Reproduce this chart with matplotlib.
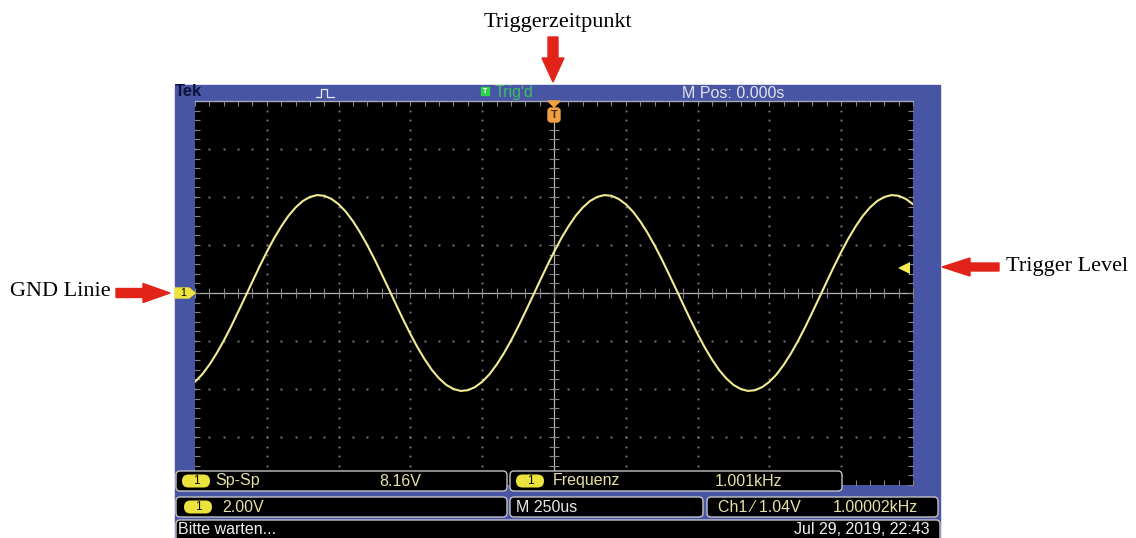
import matplotlib
matplotlib.use('Agg')
import matplotlib.pyplot as plt
import matplotlib.patches as patches
import numpy as np

plt.rcParams['font.family'] = ['Liberation Sans', 'DejaVu Sans']

time_us = list(range(-1250, 1251, 25))
ch1_volts = [-3.70, -3.39, -2.99, -2.52, -1.99, -1.41, -0.79, -0.16, 0.48, 1.11,
             1.71, 2.27, 2.77, 3.21, 3.56, 3.83, 4.00, 4.08, 4.05, 3.92,
             3.70, 3.39, 2.99, 2.52, 1.99, 1.41, 0.79, 0.16, -0.48, -1.11,
             -1.71, -2.27, -2.77, -3.21, -3.56, -3.83, -4.00, -4.08, -4.05, -3.92,
             -3.70, -3.39, -2.99, -2.52, -1.99, -1.41, -0.79, -0.16, 0.48, 1.11,
             1.71, 2.27, 2.77, 3.21, 3.56, 3.83, 4.00, 4.08, 4.05, 3.92,
             3.70, 3.39, 2.99, 2.52, 1.99, 1.41, 0.79, 0.16, -0.48, -1.11,
             -1.71, -2.27, -2.77, -3.21, -3.56, -3.83, -4.00, -4.08, -4.05, -3.92,
             -3.70, -3.39, -2.99, -2.52, -1.99, -1.41, -0.79, -0.16, 0.48, 1.11,
             1.71, 2.27, 2.77, 3.21, 3.56, 3.83, 4.00, 4.08, 4.05, 3.92,
             3.70]

volts_per_div = 2.0
us_per_div = 250.0
trigger_level = 1.04

# Anzeige-Werte
meas_vpp = '8.16V'
meas_freq = '1.001kHz'
scale_text = '2.00V'
time_text = 'M 250us'
trig_text = 'Ch1 \u2044 1.04V'
trig_freq = '1.00002kHz'
mpos_text = 'M Pos: 0.000s'
status_text = 'Bitte warten...'
date_text = 'Jul 29, 2019, 22:43'

W, H = 1136, 538
BLUE = '#4854a4'
YEL = '#ece43c'
TXT = '#e6e2a6'
RED = '#e2231a'
GRID = '#858585'

fig = plt.figure(figsize=(W / 100, H / 100), dpi=100, facecolor='white')

# Hintergrund (Pixelkoordinaten)
bg = fig.add_axes([0, 0, 1, 1], zorder=0)
bg.set_xlim(0, W)
bg.set_ylim(H, 0)
bg.axis('off')
bg.add_patch(patches.Rectangle((175, 85), 765, 460, color=BLUE))

bg.text(175, 92, 'Tek', fontsize=12, fontweight='bold', color='#0e1436', va='center')
bg.plot([316, 321, 321, 327, 327, 334], [97, 97, 89, 89, 97, 97], color='#e8e8f0', lw=0.9)
bg.add_patch(patches.Rectangle((481, 87), 8, 8, color='#2fd04a'))
bg.text(485, 91.5, 'T', fontsize=5, color='white', ha='center', va='center', fontweight='bold')
bg.text(495, 93, "Trig'd", fontsize=11.5, color='#3cc060', va='center')
bg.text(682, 93, mpos_text, fontsize=11.5, color='#e2e2ea', va='center')

serif = ['Liberation Serif', 'DejaVu Serif']
bg.text(558, 22, 'Triggerzeitpunkt', fontsize=16, family=serif, ha='center', va='center')
bg.text(10, 292, 'GND Linie', fontsize=16, family=serif, ha='left', va='center')
bg.text(1006, 266, 'Trigger Level', fontsize=16, family=serif, ha='left', va='center')

bg.add_patch(patches.FancyArrow(553, 37, 0, 45, width=10, head_width=22, head_length=24,
                                length_includes_head=True, color=RED))
bg.add_patch(patches.FancyArrow(116, 293, 54, 0, width=9, head_width=19, head_length=27,
                                length_includes_head=True, color=RED))
bg.add_patch(patches.FancyArrow(999, 267, -57, 0, width=8, head_width=18, head_length=28,
                                length_includes_head=True, color=RED))

# Bildschirm
ax = fig.add_axes([195 / W, 1 - 485 / H, 718 / W, 384 / H], zorder=1)
ax.set_facecolor('black')
ax.set_xlim(-5, 5)
ax.set_ylim(-4, 4)
ax.set_xticks([])
ax.set_yticks([])
for s in ['left', 'right', 'bottom']:
    ax.spines[s].set_visible(False)
ax.spines['top'].set_color('#a8a8b8')
ax.spines['top'].set_linewidth(1.0)

xs = np.arange(-5, 5.001, 0.2)
ys = np.arange(-4, 4.001, 0.2)
for k in range(-4, 5):
    if k != 0:
        ax.plot([k] * len(ys), ys, ls='none', marker='s', ms=1.3, mew=0, color=GRID)
for k in range(-3, 4):
    if k != 0:
        ax.plot(xs, [k] * len(xs), ls='none', marker='s', ms=1.3, mew=0, color=GRID)

ax.axhline(0, color='#b4b4b4', lw=0.9)
ax.axvline(0, color='#b4b4b4', lw=0.9)
ax.plot([0] * len(ys), ys, ls='none', marker='_', ms=7, mew=0.8, color=GRID)
ax.plot(xs, [0] * len(xs), ls='none', marker='|', ms=7, mew=0.8, color=GRID)
for e in [-5, 5]:
    ax.plot([e] * len(ys), ys, ls='none', marker='_', ms=7, mew=0.8, color=GRID)
for e in [-4, 4]:
    ax.plot(xs, [e] * len(xs), ls='none', marker='|', ms=7, mew=0.8, color=GRID)

t_div = np.array(time_us) / us_per_div
v_div = np.array(ch1_volts) / volts_per_div
ax.plot(t_div, v_div, color='#f2ec94', lw=1.5, zorder=5)

ax.plot(4.88, trigger_level / volts_per_div, marker='<', ms=8, color='#f2ec50',
        mew=0, clip_on=False, zorder=6)

# Overlay
ov = fig.add_axes([0, 0, 1, 1], zorder=2)
ov.patch.set_alpha(0)
ov.set_xlim(0, W)
ov.set_ylim(H, 0)
ov.axis('off')

# Trigger-Marke
ov.add_patch(patches.Polygon([(548, 101), (560, 101), (554, 107)], color='#f0a040'))
ov.add_patch(patches.FancyBboxPatch((548, 108), 12, 14, boxstyle='round,pad=0,rounding_size=3',
                                    color='#f0a040'))
ov.text(554, 114.5, 'T', fontsize=8, fontweight='bold', color='#3a2a10', ha='center', va='center')

# GND-Marke
ov.add_patch(patches.Polygon([(175, 288), (189, 288), (195, 293), (189, 298), (175, 298)],
                             color=YEL))
ov.text(183, 293, '1', fontsize=7.5, color='black', ha='center', va='center')


def box(x0, y0, x1, y1):
    ov.add_patch(patches.FancyBboxPatch((x0, y0), x1 - x0, y1 - y0,
                                        boxstyle='round,pad=0,rounding_size=4',
                                        facecolor='black', edgecolor='#c4c4c4', lw=1.0))


def pill(x0, yc):
    ov.add_patch(patches.FancyBboxPatch((x0, yc - 6.5), 28, 13,
                                        boxstyle='round,pad=0,rounding_size=6.5',
                                        facecolor=YEL, edgecolor='none'))
    ov.text(x0 + 14, yc, '1', fontsize=8.5, color='black', ha='center', va='center')


box(176, 471, 507, 491)
box(510, 471, 842, 491)
box(176, 497, 507, 517)
box(510, 497, 703, 517)
box(707, 497, 938, 517)
box(176, 520, 940, 545)

fs = 11.5
pill(182, 481)
ov.text(215, 481, 'Sp-Sp', fontsize=fs, color=TXT, va='center')
ov.text(400, 481, meas_vpp, fontsize=fs, color=TXT, va='center', ha='center')
pill(516, 481)
ov.text(553, 481, 'Frequenz', fontsize=fs, color=TXT, va='center')
ov.text(748, 481, meas_freq, fontsize=fs, color=TXT, va='center', ha='center')

pill(184, 507)
ov.text(222, 507, scale_text, fontsize=fs, color=TXT, va='center')
ov.text(516, 507, time_text, fontsize=fs, color='#e8e8e8', va='center')
ov.text(718, 507, trig_text, fontsize=fs, color=TXT, va='center')
ov.text(918, 507, trig_freq, fontsize=fs, color=TXT, va='center', ha='right')

ov.text(178, 530, status_text, fontsize=fs, color='#f0f0f0', va='center')
ov.text(930, 530, date_text, fontsize=fs, color='#f0f0f0', va='center', ha='right')

fig.savefig('out.png', dpi=100, facecolor='white')
